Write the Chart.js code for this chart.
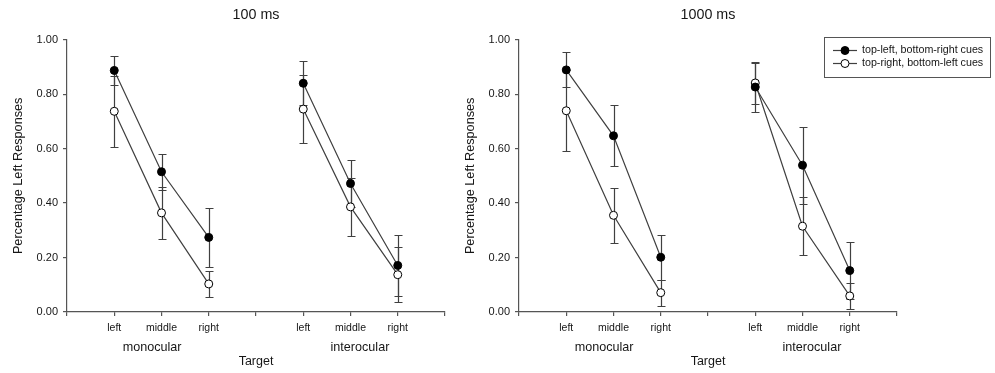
<!DOCTYPE html>
<html lang="en">
<head>
    <meta charset="UTF-8" />
    <title>Percentage Left Responses</title>
    <script src="https://cdn.jsdelivr.net/npm/chart.js"></script>
    <style>
        body { margin: 0; background: #fff; }
        #wrap { position: relative; width: 995px; height: 373px; overflow: hidden; }
        #chart100 { position: absolute; left: 0; top: 0; }
        #chart1000 { position: absolute; left: 452px; top: 0; }
    </style>
</head>
<body>

<div id="wrap">
    <canvas id="chart100" width="480" height="373"></canvas>
    <canvas id="chart1000" width="543" height="373"></canvas>
</div>

<script>
    // categories
    const targets = ['left', 'middle', 'right'];
    const groups = ['monocular', 'interocular'];
    const xPositions = [1, 2, 3, 5, 6, 7];   // left/middle/right of each group on the axis
    const seriesNames = ['top-left, bottom-right cues', 'top-right, bottom-left cues'];
    const yTicks = [0, 0.2, 0.4, 0.6, 0.8, 1.0];

    // 100 ms  (monocular left, middle, right, interocular left, middle, right)
    const ms100TopLeft = [0.887, 0.515, 0.274, 0.840, 0.472, 0.171];
    const ms100TopLeftErr = [0.054, 0.066, 0.108, 0.080, 0.087, 0.113];
    const ms100TopRight = [0.737, 0.364, 0.103, 0.745, 0.386, 0.137];
    const ms100TopRightErr = [0.130, 0.096, 0.049, 0.126, 0.106, 0.102];

    // 1000 ms
    const ms1000TopLeft = [0.889, 0.647, 0.201, 0.826, 0.539, 0.152];
    const ms1000TopLeftErr = [0.064, 0.112, 0.083, 0.090, 0.142, 0.105];
    const ms1000TopRight = [0.739, 0.355, 0.071, 0.841, 0.315, 0.059];
    const ms1000TopRightErr = [0.149, 0.102, 0.048, 0.077, 0.107, 0.047];

    const FONT = "'Liberation Sans', Arial, sans-serif";
    const INK = '#161616';
    const LINE = '#404040';

    Chart.defaults.font.family = FONT;
    Chart.defaults.color = INK;

    // points of one series, with a gap between the two groups so the line breaks
    function toPoints(values) {
        const pts = [];
        values.forEach((v, i) => {
            if (i === 3) pts.push({ x: 4, y: null });
            pts.push({ x: xPositions[i], y: v });
        });
        return pts;
    }

    function tickLabel(value) {
        const i = xPositions.indexOf(value);
        return i >= 0 ? targets[i % 3] : '';
    }

    // vertical error bars with caps
    const errorBars = {
        id: 'errorBars',
        beforeDatasetsDraw(chart) {
            const ctx = chart.ctx;
            const yScale = chart.scales.y;
            ctx.save();
            ctx.strokeStyle = LINE;
            ctx.lineWidth = 1.2;
            chart.data.datasets.forEach((ds, di) => {
                const meta = chart.getDatasetMeta(di);
                let k = 0;
                meta.data.forEach((el, j) => {
                    const raw = ds.data[j];
                    if (raw.y === null) return;
                    const e = ds.err[k++];
                    const x = Math.round(el.x) + 0.5;
                    const yTop = Math.round(yScale.getPixelForValue(raw.y + e)) + 0.5;
                    const yBot = Math.round(yScale.getPixelForValue(raw.y - e)) + 0.5;
                    ctx.beginPath();
                    ctx.moveTo(x, yTop); ctx.lineTo(x, yBot);
                    ctx.moveTo(x - 4, yTop); ctx.lineTo(x + 4, yTop);
                    ctx.moveTo(x - 4, yBot); ctx.lineTo(x + 4, yBot);
                    ctx.stroke();
                });
            });
            ctx.restore();
        }
    };

    // group names under the target labels
    const groupLabels = {
        id: 'groupLabels',
        afterDraw(chart) {
            const ctx = chart.ctx;
            const xScale = chart.scales.x;
            const centers = [1.8, 6.2];
            ctx.save();
            ctx.font = '12.6px ' + FONT;
            ctx.fillStyle = INK;
            ctx.textAlign = 'center';
            ctx.textBaseline = 'middle';
            groups.forEach((g, i) => {
                ctx.fillText(g, xScale.getPixelForValue(centers[i]), chart.chartArea.bottom + 35.5);
            });
            ctx.restore();
        }
    };

    // boxed legend (only on the 1000 ms panel)
    const boxLegend = {
        id: 'boxLegend',
        afterDraw(chart, args, opts) {
            if (!opts.show) return;
            const ctx = chart.ctx;
            const a = chart.chartArea;
            const left = a.right - 73, top = a.top - 3, w = 166, h = 40;
            ctx.save();
            ctx.strokeStyle = '#555';
            ctx.lineWidth = 1;
            ctx.strokeRect(Math.round(left) + 0.5, Math.round(top) + 0.5, w, h);
            ctx.font = '10.7px ' + FONT;
            ctx.textBaseline = 'middle';
            chart.data.datasets.forEach((ds, i) => {
                const y = Math.round(top + 13 + i * 13) + 0.5;
                ctx.strokeStyle = LINE;
                ctx.lineWidth = 1.2;
                ctx.beginPath();
                ctx.moveTo(left + 9, y); ctx.lineTo(left + 33, y);
                ctx.stroke();
                ctx.beginPath();
                ctx.arc(left + 21, y, 4, 0, Math.PI * 2);
                ctx.fillStyle = ds.pointBackgroundColor;
                ctx.fill();
                ctx.strokeStyle = '#000';
                ctx.lineWidth = 1;
                ctx.stroke();
                ctx.fillStyle = INK;
                ctx.fillText(ds.label, left + 38, y);
            });
            ctx.restore();
        }
    };

    function makeChart(id, title, filled, filledErr, open, openErr, padRight, showLegend) {
        const ctx = document.getElementById(id).getContext('2d');
        return new Chart(ctx, {
            type: 'line',
            data: {
                datasets: [{
                    label: seriesNames[0],
                    data: toPoints(filled),
                    err: filledErr,
                    borderColor: LINE,
                    borderWidth: 1.2,
                    pointRadius: 4,
                    pointBackgroundColor: '#000',
                    pointBorderColor: '#000',
                    pointBorderWidth: 1,
                    spanGaps: false,
                    tension: 0
                }, {
                    label: seriesNames[1],
                    data: toPoints(open),
                    err: openErr,
                    borderColor: LINE,
                    borderWidth: 1.2,
                    pointRadius: 4,
                    pointBackgroundColor: '#fff',
                    pointBorderColor: '#000',
                    pointBorderWidth: 1,
                    spanGaps: false,
                    tension: 0
                }]
            },
            options: {
                responsive: false,
                animation: false,
                layout: { padding: { left: 0, right: padRight, top: 0, bottom: 4 } },
                plugins: {
                    legend: { display: false },
                    tooltip: { enabled: false },
                    title: {
                        display: true,
                        text: title,
                        fullSize: false,
                        color: INK,
                        font: { size: 14.3, weight: 'normal' },
                        padding: { top: 6, bottom: 16.5 }
                    },
                    boxLegend: { show: showLegend }
                },
                scales: {
                    x: {
                        type: 'linear',
                        min: 0,
                        max: 8,
                        afterFit: s => { s.height = 57; },
                        afterBuildTicks: s => { s.ticks = [0, 1, 2, 3, 4, 5, 6, 7, 8].map(v => ({ value: v })); },
                        grid: { drawOnChartArea: false, drawTicks: true, tickLength: 4, color: '#555', lineWidth: 1.2 },
                        border: { display: true, color: '#555', width: 1.2 },
                        ticks: {
                            autoSkip: false,
                            maxRotation: 0,
                            padding: 6,
                            font: { size: 10.5 },
                            color: INK,
                            callback: v => tickLabel(v)
                        },
                        title: {
                            display: true,
                            text: 'Target',
                            color: INK,
                            font: { size: 12.5 },
                            padding: { top: 0, bottom: 0 }
                        }
                    },
                    y: {
                        min: 0,
                        max: 1,
                        afterFit: s => { s.width = 67; },
                        afterBuildTicks: s => { s.ticks = yTicks.map(v => ({ value: v })); },
                        grid: { drawOnChartArea: false, drawTicks: true, tickLength: 4, color: '#555', lineWidth: 1.2 },
                        border: { display: true, color: '#555', width: 1.2 },
                        ticks: {
                            padding: 5,
                            font: { size: 11 },
                            color: INK,
                            callback: v => v.toFixed(2)
                        },
                        title: {
                            display: true,
                            text: 'Percentage Left Responses',
                            color: INK,
                            font: { size: 12.7 },
                            padding: { top: 11, bottom: 0 }
                        }
                    }
                }
            },
            plugins: [errorBars, groupLabels, boxLegend]
        });
    }

    makeChart('chart100', '100 ms', ms100TopLeft, ms100TopLeftErr, ms100TopRight, ms100TopRightErr, 35, false);
    makeChart('chart1000', '1000 ms', ms1000TopLeft, ms1000TopLeftErr, ms1000TopRight, ms1000TopRightErr, 98, true);
</script>

</body>
</html>
